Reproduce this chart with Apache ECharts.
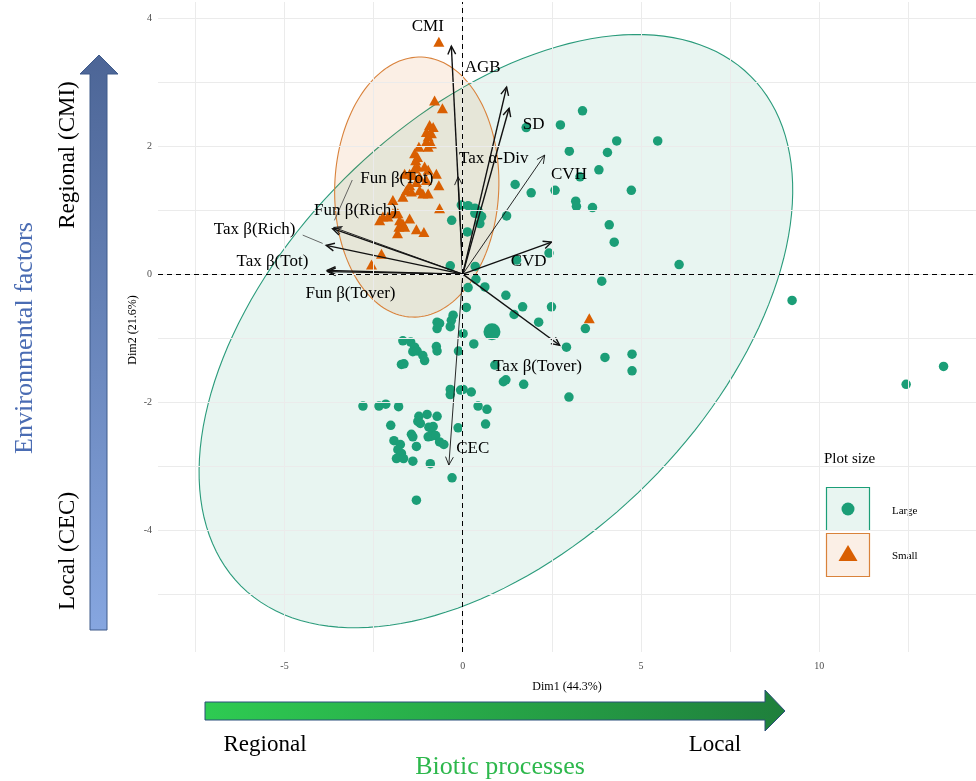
<!DOCTYPE html>
<html><head><meta charset="utf-8">
<script src="https://cdn.jsdelivr.net/npm/echarts@6/dist/echarts.min.js"></script>
<style>html,body{margin:0;padding:0;background:#fff}#c{width:976px;height:781px}</style>
</head><body><div id="c"></div>
<script>
// ---------- data ----------
const largeX = [3.36,2.74,1.78,4.32,5.47,2.99,4.06,3.82,3.29,1.47,1.92,2.59,4.73,3.17,3.19,3.64,1.23,4.11,4.25,2.42,1.51,6.07,3.90,9.24,12.44,13.49,
 -0.04,0.15,0.34,0.43,0.34,0.53,-0.31,0.48,0.13,-0.35,0.35,0.37,0.15,0.62,1.21,
 1.68,2.49,1.44,2.13,3.44,2.91,3.99,4.75,4.75,0.90,1.14,1.21,1.71,2.98,
 0.10,-0.27,-0.32,0.01,0.31,-0.12,-0.72,-0.65,-0.72,-0.35,-1.68,-1.46,-1.35,-1.40,-1.28,-1.12,-1.07,-1.72,-1.65,-0.74,-0.72,
 -0.35,-0.35,-0.06,0.01,0.24,0.43,0.68,0.64,-0.13,-2.80,-2.35,-2.16,-1.80,-1.23,-1.00,-0.72,-1.26,-1.19,-2.02,-0.95,-0.88,-0.83,
 -1.44,-1.40,-0.97,-0.88,-0.76,-1.93,-1.75,-0.65,-0.53,-1.30,-1.82,-1.72,-1.86,-1.66,-1.40,-0.91,-0.30,-1.30];
const largeY = [2.55,2.33,2.29,2.08,2.08,1.92,1.90,1.63,1.52,1.40,1.27,1.31,1.31,1.14,1.06,1.04,0.91,0.77,0.50,0.33,0.22,0.15,-0.11,-0.41,-1.72,-1.44,
 1.08,1.07,1.03,0.99,0.95,0.90,0.84,0.79,0.66,0.13,0.12,-0.08,-0.21,-0.20,-0.33,
 -0.51,-0.51,-0.63,-0.75,-0.85,-1.14,-1.30,-1.25,-1.51,-1.42,-1.68,-1.65,-1.72,-1.92,
 -0.52,-0.64,-0.72,-0.93,-1.09,-1.20,-0.75,-0.77,-0.85,-0.82,-1.04,-1.06,-1.14,-1.21,-1.20,-1.27,-1.35,-1.41,-1.40,-1.13,-1.20,
 -1.80,-1.88,-1.81,-1.80,-1.84,-2.06,-2.11,-2.34,-2.40,-2.06,-2.06,-2.03,-2.07,-2.22,-2.19,-2.22,-2.30,-2.33,-2.36,-2.39,-2.40,-2.38,
 -2.50,-2.54,-2.54,-2.53,-2.52,-2.60,-2.66,-2.62,-2.66,-2.69,-2.74,-2.80,-2.88,-2.88,-2.92,-2.96,-3.18,-3.53];
const smallX = [-0.67,-0.79,-0.57,-0.93,-0.83,-1.02,-0.88,-0.97,-1.02,-0.88,-0.97,-1.23,-1.35,-1.27,-1.32,-1.27,-1.35,-1.07,-0.97,-1.49,-0.74,-1.21,-1.40,-1.63,-1.02,-1.30,
 -0.67,-1.49,-1.58,-1.44,-1.21,-1.12,-0.97,-1.96,-1.68,-0.65,-1.96,-1.82,-2.24,-2.10,-2.33,-1.49,-1.77,-1.68,-1.79,-1.63,-1.30,-1.09,-1.83,-2.28,-2.56,3.55];
const smallY = [3.63,2.71,2.59,2.33,2.30,2.22,2.20,2.15,2.07,2.04,1.99,1.99,1.89,1.83,1.78,1.68,1.65,1.68,1.63,1.57,1.57,1.52,1.55,1.57,1.47,1.44,
 1.39,1.39,1.31,1.29,1.31,1.26,1.26,1.16,1.21,1.03,0.95,0.95,0.90,0.90,0.84,0.87,0.84,0.79,0.74,0.74,0.70,0.66,0.64,0.32,0.15,-0.69];
const meanLarge = [0.82, -0.90];

const varNames = ['CMI','AGB','SD','Tax α-Div','CVH','CVD','Tax β(Tover)','CEC','Fun β(Tot)','Fun β(Rich)','Tax β(Rich)','Tax β(Tot)','Fun β(Tover)'];
const varX = [-0.32,1.23,1.30,-0.13,2.30,2.49,2.72,-0.39,-3.62,-3.65,-3.83,-3.80,-3.79];
const varY = [3.56,2.92,2.59,1.52,1.86,0.50,-1.11,-2.98,0.73,0.71,0.45,0.06,0.04];
const labelX = [-0.98,0.56,1.99,0.87,2.98,1.85,2.10,0.28,-1.85,-3.01,-5.84,-5.34,-3.15];
const labelY = [3.86,3.22,2.33,1.81,1.55,0.19,-1.44,-2.73,1.50,1.00,0.70,0.19,-0.30];
const thinVars = ['Tax α-Div','CVH','CEC','Fun β(Tot)'];
const leaderFrom = [[-3.10,1.47],[-4.49,0.61]];
const leaderTo = [[-3.60,0.84],[-3.93,0.48]];

const ellipseLargeCenter = [0.93,-0.89];
const ellipseLargeAxes = [[7.15,3.98],[4.27,-2.37]];
const ellipseSmallCenter = [-1.29,1.36];
const ellipseSmallAxes = [[0.14,2.03],[2.30,-0.05]];

const xTicks = [-5,0,5,10];
const yTicks = [-4,-2,0,2,4];
const gridX = [-7.5,-5,-2.5,0,2.5,5,7.5,10,12.5];
const gridY = [-5,-4,-3,-2,-1,0,1,2,3,4];

// ---------- chart ----------
const SERIF = '"Liberation Serif","Times New Roman",serif';
const chart = echarts.init(document.getElementById('c'));

function ellipseSeries(center, axes, fill, stroke){
  return {type:'custom', coordinateSystem:'cartesian2d', data:[[center[0],center[1]]], z:1, silent:true,
    renderItem:(params,api)=>{
      const pts=[];
      for(let i=0;i<=160;i++){const t=2*Math.PI*i/160;
        pts.push(api.coord([center[0]+axes[0][0]*Math.cos(t)+axes[1][0]*Math.sin(t),
                            center[1]+axes[0][1]*Math.cos(t)+axes[1][1]*Math.sin(t)]));}
      return {type:'polygon', shape:{points:pts}, style:{fill:fill, stroke:stroke, lineWidth:1.1}};
    }};
}

const option = {
  animation:false,
  backgroundColor:'#fff',
  grid:{left:158, right:0, top:2, height:650, containLabel:false},
  xAxis:{type:'value', min:-8.55, max:14.4,
    name:'Dim1 (44.3%)', nameLocation:'middle', nameGap:29,
    nameTextStyle:{fontFamily:SERIF, fontSize:12, color:'#000'},
    axisLine:{show:false}, splitLine:{show:false},
    axisTick:{show:true, customValues:xTicks, length:3, lineStyle:{color:'#555'}},
    axisLabel:{customValues:xTicks, fontFamily:SERIF, fontSize:10, color:'#4d4d4d', margin:9}},
  yAxis:{type:'value', min:-5.9, max:4.25,
    axisLine:{show:false}, splitLine:{show:false},
    axisTick:{show:true, customValues:yTicks, length:3, lineStyle:{color:'#555'}},
    axisLabel:{customValues:yTicks, fontFamily:SERIF, fontSize:10, color:'#4d4d4d', margin:6}},
  series:[
    {type:'scatter', data:[], z:0, silent:true,
      markLine:{silent:true, symbol:'none', animation:false, label:{show:false},
        lineStyle:{color:'#ebebeb', width:1, type:'solid'},
        data:gridX.map(v=>({xAxis:v})).concat(gridY.map(v=>({yAxis:v})))}},
    ellipseSeries(ellipseLargeCenter, ellipseLargeAxes, 'rgba(27,158,119,0.1)', '#2a9b7b'),
    ellipseSeries(ellipseSmallCenter, ellipseSmallAxes, 'rgba(217,95,2,0.1)', '#d9823b'),
    {type:'scatter', data:[], z:2, silent:true,
      markLine:{silent:true, symbol:'none', animation:false, label:{show:false},
        lineStyle:{color:'#000', width:1, type:[5,4]},
        data:[{xAxis:0},{yAxis:0}]}},
    {type:'scatter', name:'Large', z:3, symbol:'circle', symbolSize:9.5, itemStyle:{color:'#1b9e77', opacity:1},
      data:largeX.map((x,i)=>[x,largeY[i]])},
    {type:'scatter', name:'Large mean', z:3, symbol:'circle', symbolSize:17, itemStyle:{color:'#1b9e77', opacity:1},
      data:[meanLarge]},
    {type:'scatter', name:'Small', z:3, symbol:'triangle', symbolSize:[11,10], itemStyle:{color:'#d95f02', opacity:1},
      data:smallX.map((x,i)=>[x,smallY[i]])},
    {type:'custom', coordinateSystem:'cartesian2d', z:4, silent:true,
      data:varX.map((x,i)=>[x,varY[i],i]),
      renderItem:(params,api)=>{
        const o=api.coord([0,0]), p=api.coord([api.value(0),api.value(1)]);
        const w = thinVars.includes(varNames[api.value(2)]) ? 0.9 : 1.4;
        const ang=Math.atan2(p[1]-o[1],p[0]-o[0]), L=9, A=Math.PI/7;
        const h1=[p[0]-L*Math.cos(ang-A), p[1]-L*Math.sin(ang-A)];
        const h2=[p[0]-L*Math.cos(ang+A), p[1]-L*Math.sin(ang+A)];
        return {type:'group', children:[
          {type:'line', shape:{x1:o[0],y1:o[1],x2:p[0],y2:p[1]}, style:{stroke:'#111', lineWidth:w}},
          {type:'polyline', shape:{points:[h1,p,h2]}, style:{stroke:'#111', lineWidth:w, fill:null}}]};
      }},
    {type:'custom', coordinateSystem:'cartesian2d', z:4, silent:true,
      data:leaderFrom.map((f,i)=>[f[0],f[1],leaderTo[i][0],leaderTo[i][1]]),
      renderItem:(params,api)=>{
        const a=api.coord([api.value(0),api.value(1)]), b=api.coord([api.value(2),api.value(3)]);
        return {type:'line', shape:{x1:a[0],y1:a[1],x2:b[0],y2:b[1]}, style:{stroke:'#444', lineWidth:0.8}};
      }},
    {type:'custom', coordinateSystem:'cartesian2d', z:5, silent:true,
      data:labelX.map((x,i)=>[x,labelY[i],i]),
      renderItem:(params,api)=>{
        const p=api.coord([api.value(0),api.value(1)]);
        return {type:'text', x:p[0], y:p[1], style:{text:varNames[api.value(2)], fill:'#000',
          font:'17px '+SERIF, textAlign:'center', textVerticalAlign:'middle'}};
      }}
  ],
  graphic:[
    // y axis title
    {type:'text', x:133, y:330, rotation:Math.PI/2, style:{text:'Dim2 (21.6%)', font:'12px '+SERIF, fill:'#000', textAlign:'center', textVerticalAlign:'middle'}},
    // legend
    {type:'text', left:824, top:452, style:{text:'Plot size', font:'15px '+SERIF, fill:'#000'}},
    {type:'rect', shape:{x:826.5,y:487.5,width:43,height:43}, style:{fill:'#e8f5f1', stroke:'#1b9e77', lineWidth:1.2}},
    {type:'circle', shape:{cx:848,cy:509,r:6.5}, style:{fill:'#1b9e77'}},
    {type:'rect', shape:{x:826.5,y:533.5,width:43,height:43}, style:{fill:'#fbefe6', stroke:'#d9823b', lineWidth:1.2}},
    {type:'polygon', shape:{points:[[848,545],[857.5,561],[838.5,561]]}, style:{fill:'#d95f02'}},
    {type:'text', x:892, y:511, style:{text:'Large', font:'11px '+SERIF, fill:'#000', textVerticalAlign:'middle'}},
    {type:'text', x:892, y:556, style:{text:'Small', font:'11px '+SERIF, fill:'#000', textVerticalAlign:'middle'}},
    // left vertical arrow
    {type:'polygon', shape:{points:[[90,630],[90,74],[80,74],[99,55],[118,74],[107,74],[107,630]]},
      style:{fill:new echarts.graphic.LinearGradient(0,1,0,0,[{offset:0,color:'#86a6e0'},{offset:1,color:'#4c6596'}]),
        stroke:'#3e5a8a', lineWidth:1}},
    {type:'text', x:68, y:155, rotation:Math.PI/2, style:{text:'Regional (CMI)', font:'23px '+SERIF, fill:'#000', textAlign:'center', textVerticalAlign:'middle'}},
    {type:'text', x:68, y:551, rotation:Math.PI/2, style:{text:'Local (CEC)', font:'23px '+SERIF, fill:'#000', textAlign:'center', textVerticalAlign:'middle'}},
    {type:'text', x:25, y:338, rotation:Math.PI/2, style:{text:'Environmental factors', font:'26px '+SERIF, fill:'#4a6cb3', textAlign:'center', textVerticalAlign:'middle'}},
    // bottom horizontal arrow
    {type:'polygon', shape:{points:[[205,702],[765,702],[765,690],[785,711],[765,731],[765,720],[205,720]]},
      style:{fill:new echarts.graphic.LinearGradient(0,0,1,0,[{offset:0,color:'#2ecb52'},{offset:1,color:'#1f7f3c'}]),
        stroke:'#2b4f7a', lineWidth:1}},
    {type:'text', x:265, y:745, style:{text:'Regional', font:'23px '+SERIF, fill:'#000', textAlign:'center', textVerticalAlign:'middle'}},
    {type:'text', x:715, y:745, style:{text:'Local', font:'23px '+SERIF, fill:'#000', textAlign:'center', textVerticalAlign:'middle'}},
    {type:'text', x:500, y:767, style:{text:'Biotic processes', font:'26px '+SERIF, fill:'#2db84c', textAlign:'center', textVerticalAlign:'middle'}}
  ]
};
chart.setOption(option);
</script></body></html>
